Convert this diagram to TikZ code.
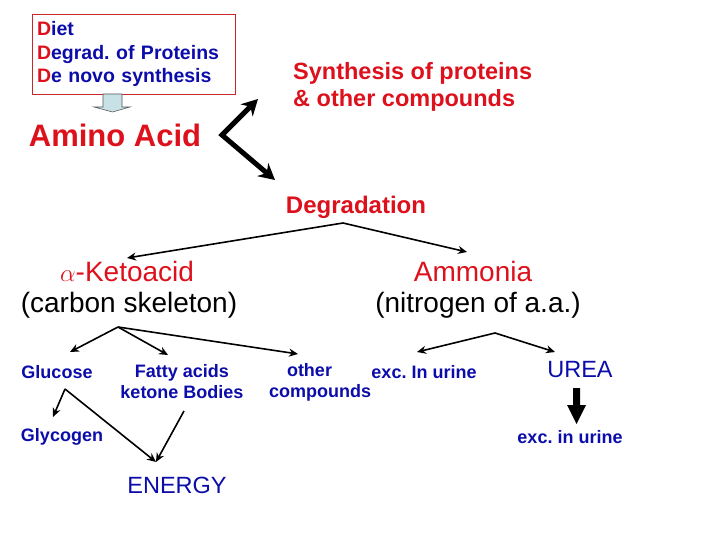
\documentclass[tikz,border=0pt]{standalone}
\usepackage{fontspec}
\setmainfont{Liberation Sans}
\usepackage{xcolor}
\usepackage{tikz}
\usetikzlibrary{arrows.meta, calc}
\frenchspacing

\definecolor{aared}{RGB}{221,17,28}
\definecolor{aablue}{RGB}{12,12,170}
\definecolor{boxred}{RGB}{200,40,40}
\definecolor{paleblue}{RGB}{200,225,230}

\begin{document}
\begin{tikzpicture}[x=1pt, y=-1pt,
    srcbox/.style={draw=boxred, line width=0.8pt, minimum width=203pt, minimum height=80pt,
        inner xsep=5pt, text width=193pt, align=left, text=aablue,
        font=\bfseries\fontsize{19.5}{23.5}\selectfont},
    bigred/.style={text=aared, inner sep=0pt, font=\bfseries\fontsize{31}{36}\selectfont},
    redbold/.style={text=aared, inner sep=0pt, align=left, font=\bfseries\fontsize{23.5}{27}\selectfont},
    midlabel/.style={inner sep=0pt, font=\fontsize{28}{33}\selectfont},
    bluesmall/.style={text=aablue, inner sep=0pt, align=center, font=\bfseries\fontsize{18}{21}\selectfont},
    bluebig/.style={text=aablue, inner sep=0pt, font=\fontsize{23.5}{28}\selectfont},
    thinarrow/.style={-{Stealth[length=9pt, width=8pt]}, line width=1.6pt},
    fatarrow/.style={{Stealth[length=16pt, width=17pt]}-{Stealth[length=16pt, width=17pt]},
        line width=5pt, line join=miter}
]
\useasboundingbox (0,0) rectangle (720,540);

% Sources and amino acid
\node[srcbox] (src) at (133.5,54) {\textcolor{aared}{D}iet\\\textcolor{aared}{D}egrad. of Proteins\\\textcolor{aared}{D}e novo synthesis};
\node[bigred] (aa) at (115,135) {Amino Acid};
\node[redbold, anchor=west] (synth) at (293,87) {Synthesis of proteins\\\& other compounds};
\node[redbold, font=\bfseries\fontsize{24}{28}\selectfont] (degr) at (356,207) {Degradation};

% Second level
\node[midlabel, text=aared] (keto) at (127,271) {$\alpha$-Ketoacid};
\node[midlabel] (carbon) at (129,305) {(carbon skeleton)};
\node[midlabel, text=aared] (ammonia) at (473,271) {Ammonia};
\node[midlabel] (nitro) at (478,305) {(nitrogen of a.a.)};

% Products
\node[bluesmall] (glucose) at (57,372) {Glucose};
\node[bluesmall] (fatty) at (182,382) {Fatty acids\\ketone Bodies};
\node[bluesmall] (other) at (320,382) {other\hspace*{21pt}\\compounds};
\node[bluesmall] (excin) at (424,372) {exc. In urine};
\node[bluebig] (urea) at (580,370) {UREA};
\node[bluesmall] (glycogen) at (62,437) {Glycogen};
\node[bluesmall] (excur) at (570,437) {exc. in urine};
\node[bluebig] (energy) at (177,485) {ENERGY};

% Fork and tip points
\coordinate (aavertex) at (222,135);
\coordinate (synthtip) at (258,99);
\coordinate (degrtip) at (275,180);
\coordinate (degrfork) at (343,223);
\coordinate (ketotip) at (127,258);
\coordinate (ammoniatip) at (467,252);
\coordinate (carbonfork) at (118,327);
\coordinate (glucosetip) at (70,352);
\coordinate (fattytip) at (168,355);
\coordinate (othertip) at (298,354);
\coordinate (nitrofork) at (495,333);
\coordinate (excintip) at (417,352);
\coordinate (ureatip) at (555,352);
\coordinate (glucosefork) at (65,389);
\coordinate (glycogentip) at (53,417);
\coordinate (energytip) at (156,462);
\coordinate (fattyfork) at (184,411);

% Block arrow: sources -> amino acid
\draw[draw=gray!70!black, fill=paleblue, line width=0.6pt]
    (103,94) -- (122,94) -- (122,107) -- (130,107) -- (112.5,112) -- (94,107) -- (103,107) -- cycle;

% Thick arrows from amino acid
\draw[fatarrow] (synthtip) -- (aavertex) -- (degrtip);

% Degradation
\draw[thinarrow] (degrfork) -- (ketotip);
\draw[thinarrow] (degrfork) -- (ammoniatip);

% Carbon skeleton
\draw[thinarrow] (carbonfork) -- (glucosetip);
\draw[thinarrow] (carbonfork) -- (fattytip);
\draw[thinarrow] (carbonfork) -- (othertip);

% Nitrogen
\draw[thinarrow] (nitrofork) -- (excintip);
\draw[thinarrow] (nitrofork) -- (ureatip);

% Energy
\draw[thinarrow] (glucosefork) -- (glycogentip);
\draw[thinarrow] (glucosefork) -- (energytip);
\draw[thinarrow] (fattyfork) -- (energytip);

% Block arrow: urea -> urine
\fill (573,388) -- (580,388) -- (580,405) -- (586,405) -- (576.5,424) -- (567,405) -- (573,405) -- cycle;

\end{tikzpicture}
\end{document}
